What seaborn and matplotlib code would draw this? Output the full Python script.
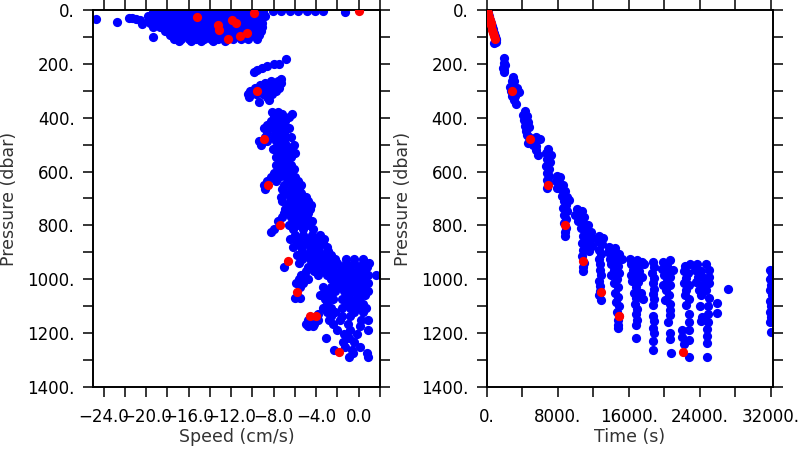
import numpy as np
import pandas as pd
import matplotlib
matplotlib.use("Agg")
import matplotlib.pyplot as plt
import seaborn as sns
from matplotlib.ticker import MultipleLocator

sns.set_style("white")
plt.rcParams['font.family'] = ['DejaVu Sans']

# --- left panel: speed (cm/s) vs pressure (dbar), blue samples, one row per pressure ---
surface_rows = [
    (3, [-17.0, -16.0, -15.0, -14.0, -13.0, -12.0, -11.0, -10.0, -9.0, -8.1, -7.3, -6.5, -5.7, -4.9, -4.1, -3.4]),
    (6, [-1.3]),
    (8, [-19.4, -18.7, -18.0, -17.3, -16.6, -15.9, -15.2, -14.5, -13.8, -13.1, -12.4, -11.7, -11.0, -10.3, -9.6, -9.0]),
    (22, [-19.8, -19.1, -18.4, -17.7, -17.0, -16.3, -15.6, -14.9, -14.2, -13.5, -12.8, -12.1, -11.4, -10.7, -10.0, -9.3, -8.8]),
    (36, [-19.7, -19.0, -18.3, -17.6, -16.9, -16.2, -15.5, -14.8, -14.1, -13.4, -12.7, -12.0, -11.3, -10.6, -9.9, -9.2]),
    (50, [-19.6, -18.9, -18.2, -17.5, -16.8, -16.1, -15.4, -14.7, -14.0, -13.3, -12.6, -11.9, -11.2, -10.5, -9.8, -9.1]),
    (64, [-19.4, -18.7, -18.0, -17.3, -16.6, -15.9, -15.2, -14.5, -13.8, -13.1, -12.4, -11.7, -11.0, -10.3, -9.6, -9.1]),
    (78, [-18.2, -17.5, -16.8, -16.1, -15.4, -14.7, -14.0, -13.3, -12.6, -11.9, -11.2, -10.5, -9.8, -9.2]),
    (92, [-17.8, -17.1, -16.4, -15.7, -15.0, -14.3, -13.6, -12.9, -12.2, -11.5, -10.8, -10.1, -9.4]),
    (99, [-19.4]),
    (106, [-17.4, -16.7, -16.0, -15.3, -14.6, -13.9, -13.2, -12.5, -11.8, -11.1, -10.4, -9.6]),
    (114, [-16.9, -15.8, -14.8, -13.7, -12.6]),
]
outlier_speed = [-24.7, -22.7, -21.6, -21.3, -21.0, -20.6, -20.4]
outlier_pres = [33, 46, 29, 31, 33, 37, 53]

mid_rows = [
    (182, [-6.8]),
    (200, [-8.0, -7.5]), (207, [-8.6]), (214, [-9.1]), (222, [-9.6]), (229, [-9.9]),
    (255, [-7.3]), (262, [-8.3, -7.6]), (270, [-8.8, -8.0, -7.3]), (280, [-9.3, -8.5, -7.7]),
    (290, [-9.8, -9.0, -8.2, -7.5]), (300, [-10.2, -9.4, -8.6, -7.8]), (312, [-10.4, -9.7, -9.0, -8.2]),
    (324, [-10.3, -8.6]), (334, [-8.4]), (340, [-9.4]),
    (378, [-8.2, -7.6]), (388, [-7.2, -6.3]), (398, [-8.0, -7.3, -6.6]), (412, [-8.3, -7.6, -6.9]),
    (426, [-8.6, -7.8, -7.1]), (440, [-8.9, -8.1, -7.3, -6.6]), (455, [-8.6, -7.8, -7.0]),
    (470, [-8.8, -8.0, -7.2, -6.4]), (485, [-9.4, -8.6, -7.8, -7.0]), (500, [-9.2, -7.6, -6.8, -6.1]),
    (515, [-8.1, -7.4, -6.6]), (530, [-7.6, -6.8, -6.0]), (545, [-7.8, -7.1, -6.4]), (560, [-7.5, -6.8]),
    (575, [-7.8, -7.1, -6.4]), (590, [-7.5, -6.8, -6.1]), (605, [-8.0, -7.2, -6.5]),
    (620, [-8.3, -7.5, -6.8, -6.0]), (635, [-8.6, -7.8, -6.5, -5.7]), (650, [-8.9, -7.0, -6.2, -5.4]),
    (665, [-8.8, -7.2, -6.4, -5.6]), (680, [-7.0, -6.2, -5.4]), (695, [-7.3, -6.5, -5.7, -5.0]),
    (710, [-7.2, -6.4, -5.6, -4.8]), (725, [-6.7, -5.9, -5.1, -4.5]), (740, [-6.9, -6.1, -5.3, -4.6]),
    (755, [-7.0, -6.3, -5.5, -4.8]), (770, [-7.2, -6.4, -5.6, -4.9]), (785, [-7.6, -6.0, -5.2, -4.4]),
    (800, [-6.6, -5.6, -4.7]), (812, [-8.0, -6.2, -5.2, -4.3]), (823, [-8.3]),
]

deep_rows = [
    (835, [-6.0, -5.2, -4.4, -3.6]), (850, [-6.5, -5.6, -4.8, -4.0, -3.3]),
    (865, [-5.8, -5.0, -4.2, -3.4]), (880, [-6.2, -5.4, -4.6, -3.8, -3.0]),
    (895, [-5.3, -4.5, -3.7, -2.9]), (910, [-5.8, -5.0, -4.2, -3.4, -2.6]),
    (925, [-5.3, -4.6, -3.8, -3.0, -2.2, -1.2, -0.4, 0.4]),
    (940, [-5.6, -4.4, -3.6, -2.8, -2.0, -1.2, -0.4, 0.4, 1.0]),
    (955, [-7.0, -4.8, -4.0, -3.2, -2.4, -1.6, -0.8, 0.0, 0.8]),
    (970, [-5.0, -4.2, -3.4, -2.6, -1.8, -1.0, -0.2, 0.6]),
    (985, [-5.4, -3.8, -3.0, -2.2, -1.4, -0.6, 0.2, 0.9, 1.6]),
    (1000, [-5.6, -4.8, -2.6, -1.8, -1.0, -0.2, 0.6]),
    (1015, [-5.9, -5.2, -2.2, -1.4, -0.6, 0.2, 0.9]),
    (1030, [-5.5, -3.4, -2.6, -1.8, -1.0, -0.2, 0.6]),
    (1045, [-3.2, -2.2, -1.4, -0.6, 0.2, 0.9]),
    (1060, [-3.6, -2.8, -1.0, -0.2, 0.6]), (1070, [-6.0, -5.5]),
    (1075, [-3.2, -2.4, -1.6, -0.8, 0.0]), (1090, [-3.0, -1.2, -0.4, 0.4]),
    (1105, [-3.4, -2.6, -1.6, -0.8, 0.0, 0.7]), (1120, [-3.0, -2.2, -0.4, 0.4]),
    (1130, [-3.8]), (1135, [-2.6, -1.6, -0.8]),
    (1150, [-4.8, -3.8, -2.8, -1.8, 0.2, 0.9]), (1165, [-5.0, -4.2, -2.4, -1.0]),
    (1172, [-4.8, -4.3, 0.1]), (1190, [-2.0, -0.8, 0.9]), (1205, [-1.4, -0.2]),
    (1217, [-3.1, -0.9]), (1232, [-1.5, -0.4]), (1250, [-1.3, 0.1]),
    (1262, [-2.3, -0.6]), (1275, [-0.5, 0.8]), (1288, [-0.9, 0.9]),
]

# --- right panel: time (s) vs pressure (dbar), blue samples ---
time_pts = [
    # surface streak
    (120, 0), (200, 12), (300, 24), (400, 36), (500, 48), (600, 60), (700, 72), (800, 84),
    (900, 96), (1000, 108), (1100, 112), (1050, 118), (850, 122),
    # 180-235 dbar
    (1990, 180), (1900, 198), (2050, 205), (1850, 215), (1950, 222), (2000, 232),
    # 250-350
    (2950, 250), (2800, 265), (3100, 265), (2600, 285), (2950, 285), (3400, 290), (2700, 300),
    (3150, 305), (3600, 305), (2800, 320), (3200, 320), (3050, 335), (3300, 350),
    # 375-540
    (4300, 375), (4100, 390), (4500, 395), (4200, 410), (4600, 415), (4300, 430), (4750, 435),
    (4400, 450), (4550, 465), (4800, 470), (5600, 470), (5300, 478), (6000, 480), (4700, 495),
    (5200, 500), (5500, 505), (5600, 520), (5800, 540),
    # 515-660
    (6900, 515), (6700, 530), (7200, 540), (6800, 555), (7100, 565), (6700, 580), (7000, 590),
    (6800, 605), (7050, 615), (6750, 630), (6900, 645), (6750, 660),
    # 615-840
    (7900, 615), (8300, 620), (7800, 635), (8200, 640), (8600, 650), (7900, 660), (8400, 665),
    (8800, 672), (8500, 690), (9000, 695), (8700, 710), (9300, 705), (8900, 725), (8600, 735),
    (9000, 745), (8700, 760), (8900, 775), (8700, 790), (8900, 810), (8800, 825), (8850, 838),
    # 735-970
    (10200, 738), (10700, 745), (10000, 760), (10500, 765), (11000, 770), (10300, 785), (10900, 790),
    (11400, 800), (10600, 810), (11200, 820), (11800, 825), (10800, 840), (11500, 850), (12000, 845),
    (10700, 865), (11300, 870), (11900, 875), (10800, 890), (11500, 895), (10700, 915), (11000, 940),
    (10800, 955), (10900, 970),
    # 835-1080
    (12700, 838), (13100, 845), (12600, 860), (13000, 870), (12700, 890), (12900, 905), (12700, 925),
    (12800, 945), (12750, 965), (12900, 985), (12700, 1005), (12800, 1025), (12750, 1045),
    (12700, 1060), (12850, 1078),
    # 880-1180
    (13800, 880), (14500, 885), (13700, 900), (14200, 905), (14900, 905), (13900, 925), (14600, 930),
    (15200, 925), (14000, 945), (14800, 950), (14300, 965), (14900, 975), (14000, 985), (14700, 1000),
    (14300, 1015), (14800, 1030), (14500, 1050), (14800, 1065), (14600, 1085), (14900, 1100),
    (14700, 1120), (14800, 1150), (14750, 1170), (14800, 1180),
    # 925-1220
    (16200, 925), (16900, 930), (17500, 935), (16300, 945), (17000, 950), (17700, 945), (16500, 965),
    (17200, 970), (16300, 985), (16900, 990), (17500, 990), (16400, 1005), (17100, 1010),
    (16800, 1030), (16600, 1050), (17400, 1050), (16800, 1070), (17600, 1075), (16700, 1090),
    (16900, 1110), (16800, 1130), (16900, 1150), (16800, 1170), (16800, 1219),
    # 935-1265
    (18700, 935), (18900, 955), (18600, 975), (18800, 995), (18700, 1015), (18900, 1035),
    (18700, 1055), (18800, 1075), (18700, 1095), (18750, 1135), (18800, 1155), (18700, 1180),
    (18800, 1200), (18750, 1230), (18780, 1263),
    # 930-1275
    (19900, 935), (20700, 930), (20300, 950), (19800, 960), (20500, 965), (21000, 965), (20000, 985),
    (20600, 990), (20300, 1005), (19900, 1020), (20600, 1020), (20200, 1040), (20500, 1060),
    (20100, 1077), (20700, 1090), (20600, 1115), (20660, 1133), (20400, 1160), (20700, 1200),
    (20700, 1220), (20740, 1275),
    # 945-1290
    (22300, 950), (22900, 945), (22200, 970), (22700, 975), (22500, 995), (22200, 1015),
    (22800, 1020), (22500, 1040), (22300, 1060), (22800, 1075), (22500, 1095), (22800, 1130),
    (22800, 1160), (21970, 1190), (22800, 1190), (21970, 1213), (22800, 1225), (22200, 1240),
    (22830, 1287),
    # 945-1290
    (23700, 945), (24700, 945), (23500, 965), (24200, 970), (25000, 965), (23800, 990),
    (24500, 995), (25100, 990), (23600, 1010), (24300, 1020), (25000, 1015), (23900, 1040),
    (24700, 1040), (24100, 1060), (25000, 1070), (24040, 1101), (24900, 1100), (24230, 1139),
    (24900, 1130), (24100, 1154), (24900, 1160), (24800, 1185), (24800, 1210), (24800, 1235),
    (24790, 1290),
    # stragglers
    (25990, 1087), (25990, 1124), (27230, 1035),
    # last column at the right edge
    (31950, 965), (32100, 980), (31950, 1000), (32050, 1020), (31950, 1040), (32100, 1060),
    (31950, 1080), (32050, 1100), (31950, 1120), (32050, 1140), (31950, 1160), (32000, 1195),
]

# --- red samples, shared by both panels ---
red_pres = [3, 10, 25, 37, 50, 56, 74, 84, 97, 109, 300, 480, 650, 797, 931, 1046, 1136, 1136, 1269]
red_speed = [0.0, -9.9, -15.2, -11.9, -11.5, -13.2, -13.1, -10.5, -11.2, -12.3,
             -9.6, -8.9, -8.5, -7.4, -6.7, -5.8, -4.6, -4.0, -1.85]
red_time = [0, 100, 230, 330, 450, 500, 650, 730, 850, 950,
            2885, 4880, 6870, 8860, 10850, 12850, 14910, 14910, 22120]

speed_ticks = [-24, -20, -16, -12, -8, -4, 0]
time_ticks = [0, 8000, 16000, 24000, 32000]
pres_ticks = [0, 200, 400, 600, 800, 1000, 1200, 1400]


def rows_to_df(rows):
    pres, spd = [], []
    for p, speeds in rows:
        for s in speeds:
            pres.append(p)
            spd.append(s)
    return pd.DataFrame({"speed": spd, "pressure": pres})


left_df = pd.concat([
    rows_to_df(surface_rows),
    pd.DataFrame({"speed": outlier_speed, "pressure": outlier_pres}),
    rows_to_df(mid_rows),
    rows_to_df(deep_rows),
], ignore_index=True)
right_df = pd.DataFrame(time_pts, columns=["time", "pressure"])
red_df = pd.DataFrame({"speed": red_speed, "time": red_time, "pressure": red_pres})

fig = plt.figure(figsize=(8, 4.5), dpi=100)
ax1 = fig.add_axes([0.11625, 0.14, 0.35875, 0.8378])
ax2 = fig.add_axes([0.6084, 0.14, 0.3583, 0.8378])

dot = dict(s=44, linewidth=0, legend=False)
sns.scatterplot(data=left_df, x="speed", y="pressure", color="#0000ff", ax=ax1, zorder=2, **dot)
sns.scatterplot(data=red_df, x="speed", y="pressure", color="#ff0000", ax=ax1, zorder=3, **dot)
sns.scatterplot(data=right_df, x="time", y="pressure", color="#0000ff", ax=ax2, zorder=2, **dot)
sns.scatterplot(data=red_df, x="time", y="pressure", color="#ff0000", ax=ax2, zorder=3, **dot)


def style(ax, xlim, xticks, xlabels, xminor, xlabel):
    ax.set_xlim(*xlim)
    ax.set_ylim(1400, 0)
    ax.set_xticks(xticks)
    ax.set_xticklabels(xlabels)
    ax.xaxis.set_minor_locator(MultipleLocator(xminor))
    ax.set_yticks(pres_ticks)
    ax.set_yticklabels([f"{v}." for v in pres_ticks])
    ax.yaxis.set_minor_locator(MultipleLocator(100))
    ax.tick_params(which="both", direction="out", length=7.2, width=1.1,
                   top=True, right=True, bottom=True, left=True, color="black")
    ax.tick_params(axis="both", labelsize=12, labelcolor="black")
    ax.tick_params(axis="x", pad=8)
    ax.tick_params(axis="y", pad=6)
    for sp in ax.spines.values():
        sp.set_linewidth(1.4)
        sp.set_color("black")
    ax.set_xlabel(xlabel, fontsize=12.5, color="#333333")
    ax.set_ylabel("Pressure (dbar)", fontsize=12.5, color="#333333")
    ax.xaxis.set_label_coords(0.5, -0.11)
    ax.yaxis.set_label_coords(-0.262, 0.5)
    ax.grid(False)


style(ax1, (-25, 2), speed_ticks, [f"{v:.1f}".replace("-", "\u2212") for v in speed_ticks], 2, "Speed (cm/s)")
style(ax2, (0, 32300), time_ticks, [f"{v}." for v in time_ticks], 4000, "Time (s)")

fig.savefig("out.png", dpi=100, facecolor="white")
